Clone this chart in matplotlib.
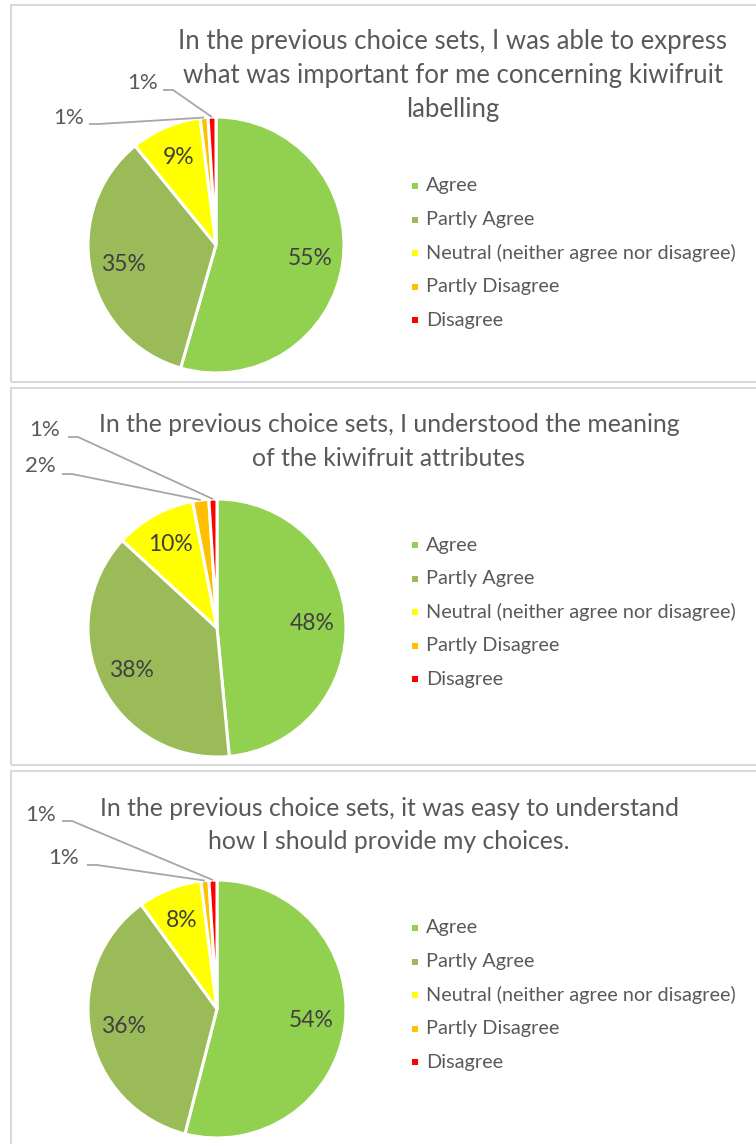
import numpy as np
import matplotlib.pyplot as plt
from matplotlib.patches import Rectangle

plt.rcParams['font.family'] = ['Lato', 'DejaVu Sans']

W, H = 756, 1144

categories = ['Agree', 'Partly Agree', 'Neutral (neither agree nor disagree)',
              'Partly Disagree', 'Disagree']
colors = ['#92D050', '#9BBB59', '#FFFF00', '#FFC000', '#FF0000']

express_vals = [55, 35, 9, 1, 1]
meaning_vals = [48, 38, 10, 2, 1]
easy_vals = [54, 36, 8, 1, 1]

express_title = ['In the previous choice sets, I was able to express',
                 'what was important for me concerning kiwifruit',
                 'labelling']
meaning_title = ['In the previous choice sets, I understood the meaning',
                 'of the kiwifruit attributes']
easy_title = ['In the previous choice sets, it was easy to understand',
              'how I should provide my choices.']

# layout in pixels, y measured from the top of the image
panels = [
    dict(vals=express_vals, title=express_title, box=(5, 382),
         center=(216, 245), r=128, title_x=453, title_y=42, title_fs=18.5,
         legend_y=186,
         # index of slice: (label centre, leader elbow)
         outside={4: ((143, 83), (173, 90)), 3: ((69, 118), (99, 124))}),
    dict(vals=meaning_vals, title=meaning_title, box=(388, 765),
         center=(217, 628), r=129, title_x=389, title_y=425, title_fs=17.8,
         legend_y=545,
         outside={4: ((45, 430), (78, 437)), 3: ((40, 466), (72, 474))}),
    dict(vals=easy_vals, title=easy_title, box=(771, 1152),
         center=(217, 1009), r=129, title_x=389, title_y=808, title_fs=17.8,
         legend_y=928,
         outside={4: ((41, 815), (72, 821)), 3: ((64, 858), (97, 865))}),
]

fig = plt.figure(figsize=(W / 100, H / 100), dpi=100)
ax = fig.add_axes([0, 0, 1, 1])

label_col = '#404040'
text_col = '#595959'
line_col = '#A6A6A6'

for p in panels:
    top, bottom = p['box']
    ax.add_patch(Rectangle((11, H - bottom), 760, bottom - top, fill=False,
                           edgecolor='#D9D9D9', linewidth=1.5))

    cx, cy = p['center']
    cy = H - cy
    r = p['r']
    wedges, _ = ax.pie(p['vals'], colors=colors, startangle=90,
                       counterclock=False, center=(cx, cy), radius=r,
                       wedgeprops=dict(edgecolor='white', linewidth=2.2))

    for i, (w, v) in enumerate(zip(wedges, p['vals'])):
        mid = np.deg2rad((w.theta1 + w.theta2) / 2)
        ex, ey = cx + r * np.cos(mid), cy + r * np.sin(mid)
        if i in p['outside']:
            (tx, ty), (bx, by) = p['outside'][i]
            ax.text(tx, H - ty, f'{v}%', ha='center', va='center',
                    fontsize=16, color=text_col)
            ax.plot([bx - 10, bx, ex], [H - by, H - by, ey],
                    color=line_col, linewidth=1.3, solid_capstyle='butt')
        else:
            lx, ly = cx + 0.74 * r * np.cos(mid), cy + 0.74 * r * np.sin(mid)
            ax.text(lx, ly, f'{v}%', ha='center', va='center',
                    fontsize=16.5, color=label_col)

    for k, line in enumerate(p['title']):
        ax.text(p['title_x'], H - (p['title_y'] + 33.5 * k), line,
                ha='center', va='center', fontsize=p['title_fs'],
                color=text_col)

    for k, (name, c) in enumerate(zip(categories, colors)):
        ly = H - (p['legend_y'] + 33.6 * k)
        ax.add_patch(Rectangle((412, ly - 3), 6, 6, facecolor=c,
                               edgecolor='none'))
        ax.text(426, ly, name, ha='left', va='center', fontsize=14.3,
                color=text_col)

ax.set_xlim(0, W)
ax.set_ylim(0, H)
ax.set_aspect('auto')
ax.axis('off')

fig.savefig('out.png', dpi=100, facecolor='white')
